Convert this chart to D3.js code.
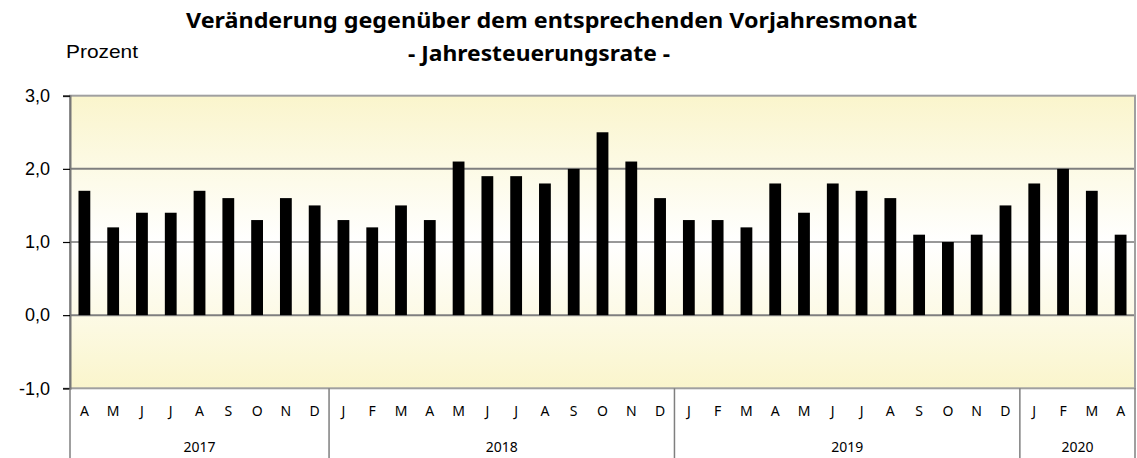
<!DOCTYPE html>
<html>
<head>
<meta charset="utf-8">
<script src="https://cdn.jsdelivr.net/npm/d3@7"></script>
<style>
  body { margin: 0; background: #fff; }
  svg { display: block; }
</style>
</head>
<body>
<div id="chart"></div>
<script>
// months Apr 2017 - Apr 2020
var monthLabels = ['A','M','J','J','A','S','O','N','D',
                   'J','F','M','A','M','J','J','A','S','O','N','D',
                   'J','F','M','A','M','J','J','A','S','O','N','D',
                   'J','F','M','A'];
var rates = [1.7, 1.2, 1.4, 1.4, 1.7, 1.6, 1.3, 1.6, 1.5,
             1.3, 1.2, 1.5, 1.3, 2.1, 1.9, 1.9, 1.8, 2.0, 2.5, 2.1, 1.6,
             1.3, 1.3, 1.2, 1.8, 1.4, 1.8, 1.7, 1.6, 1.1, 1.0, 1.1, 1.5,
             1.8, 2.0, 1.7, 1.1];
var years = ['2017', '2018', '2019', '2020'];
var monthsPerYear = [9, 12, 12, 4];
var yTicks = [-1, 0, 1, 2, 3];

// plot area (window.top is taken, so use own names)
var w = 1137, h = 458;
var plotL = 70, plotR = 1135, plotT = 95.7, plotB = 388.3;

var svg = d3.select('#chart').append('svg')
  .attr('width', w)
  .attr('height', h);

var x = d3.scaleBand()
  .domain(d3.range(rates.length))
  .range([plotL, plotR])
  .paddingInner(0.59)
  .paddingOuter(0.295);

var y = d3.scaleLinear()
  .domain([-1, 3])
  .range([plotB, plotT]);

// background gradient, yellow at edges, white in the middle
var grad = svg.append('defs').append('linearGradient')
  .attr('id', 'bg')
  .attr('x1', 0).attr('y1', 0).attr('x2', 0).attr('y2', 1);
grad.append('stop').attr('offset', '0%').attr('stop-color', '#faf5cc');
grad.append('stop').attr('offset', '50%').attr('stop-color', '#ffffff');
grad.append('stop').attr('offset', '100%').attr('stop-color', '#faf5cc');

svg.append('rect')
  .attr('x', plotL).attr('y', plotT)
  .attr('width', plotR - plotL).attr('height', plotB - plotT)
  .attr('fill', 'url(#bg)');

// gridlines
svg.selectAll('line.grid')
  .data(yTicks.filter(function(d){ return d > -1 && d < 3; }))
  .enter().append('line')
  .attr('class', 'grid')
  .attr('x1', plotL).attr('x2', plotR)
  .attr('y1', function(d){ return y(d); })
  .attr('y2', function(d){ return y(d); })
  .attr('stroke', function(d){ return d === 1 ? '#333' : '#7f7f7f'; })
  .attr('stroke-width', function(d){ return d === 1 ? 1 : 2; });

// bars
svg.selectAll('rect.bar')
  .data(rates)
  .enter().append('rect')
  .attr('class', 'bar')
  .attr('x', function(d, i){ return x(i); })
  .attr('y', function(d){ return y(Math.max(d, 0)); })
  .attr('width', x.bandwidth())
  .attr('height', function(d){ return Math.abs(y(d) - y(0)); })
  .attr('fill', '#000');

// plot border
svg.append('rect')
  .attr('x', plotL).attr('y', plotT)
  .attr('width', plotR - plotL).attr('height', plotB - plotT)
  .attr('fill', 'none')
  .attr('stroke', '#a0a0a0')
  .attr('stroke-width', 2);

// y axis, German decimal comma and plain hyphen
var yAxis = d3.axisLeft(y)
  .tickValues(yTicks)
  .tickSize(7)
  .tickPadding(13)
  .tickFormat(function(d){ return d.toFixed(1).replace('.', ','); });

var ya = svg.append('g')
  .attr('transform', 'translate(' + plotL + ',0)')
  .call(yAxis);
ya.select('.domain').attr('stroke', '#777').attr('stroke-width', 2);
ya.selectAll('.tick line').attr('stroke', '#000').attr('stroke-width', 1.2);
ya.selectAll('.tick text')
  .attr('font-family', '"Liberation Sans", Arial, sans-serif')
  .attr('font-size', '18px')
  .attr('fill', '#000');

// month labels
svg.selectAll('text.month')
  .data(monthLabels)
  .enter().append('text')
  .attr('class', 'month')
  .attr('x', function(d, i){ return x(i) + x.bandwidth() / 2; })
  .attr('y', 416)
  .attr('text-anchor', 'middle')
  .attr('font-family', '"Noto Sans", sans-serif')
  .attr('font-size', '14px')
  .attr('fill', '#000')
  .text(function(d){ return d; });

// year groups
var step = x.step();
var starts = [0];
monthsPerYear.forEach(function(n, i){ starts.push(starts[i] + n); });

svg.selectAll('line.sep')
  .data(starts)
  .enter().append('line')
  .attr('class', 'sep')
  .attr('x1', function(d){ return plotL + d * step; })
  .attr('x2', function(d){ return plotL + d * step; })
  .attr('y1', plotB).attr('y2', h)
  .attr('stroke', '#7f7f7f')
  .attr('stroke-width', 1.5);

svg.selectAll('text.year')
  .data(years)
  .enter().append('text')
  .attr('class', 'year')
  .attr('x', function(d, i){ return plotL + (starts[i] + monthsPerYear[i] / 2) * step; })
  .attr('y', 452)
  .attr('text-anchor', 'middle')
  .attr('font-family', '"Noto Sans", sans-serif')
  .attr('font-size', '14px')
  .attr('fill', '#000')
  .text(function(d){ return d; });

// titles
svg.append('text')
  .attr('x', 186).attr('y', 28)
  .attr('font-family', '"Noto Sans", sans-serif')
  .attr('font-weight', 'bold')
  .attr('font-size', '21.5px')
  .attr('textLength', 731)
  .attr('lengthAdjust', 'spacingAndGlyphs')
  .text('Veränderung gegenüber dem entsprechenden Vorjahresmonat');

svg.append('text')
  .attr('x', 408).attr('y', 61)
  .attr('font-family', '"Noto Sans", sans-serif')
  .attr('font-weight', 'bold')
  .attr('font-size', '21.5px')
  .attr('textLength', 262)
  .attr('lengthAdjust', 'spacingAndGlyphs')
  .text('- Jahresteuerungsrate -');

svg.append('text')
  .attr('x', 66).attr('y', 58)
  .attr('font-family', '"Liberation Sans", Arial, sans-serif')
  .attr('font-size', '19px')
  .attr('textLength', 72)
  .attr('lengthAdjust', 'spacingAndGlyphs')
  .text('Prozent');
</script>
</body>
</html>
